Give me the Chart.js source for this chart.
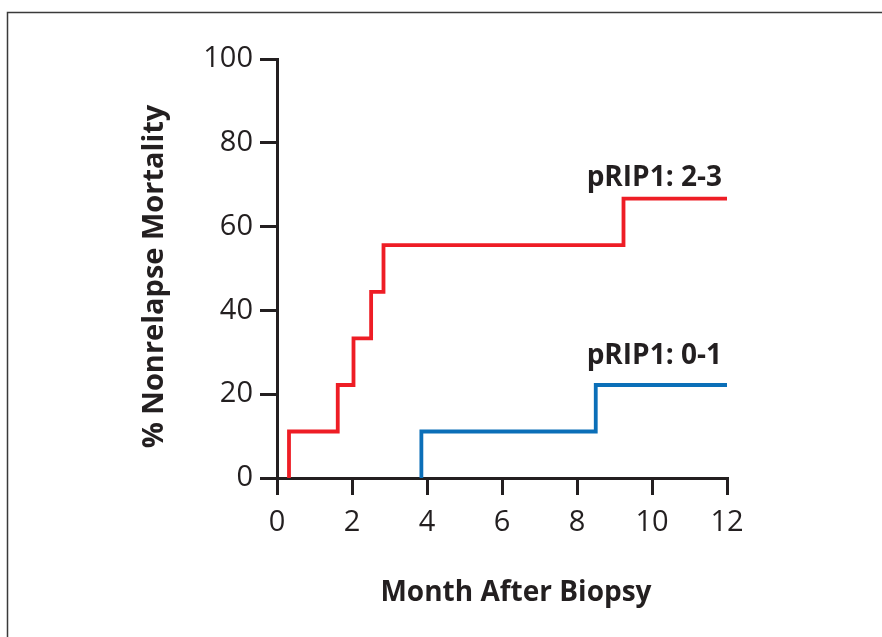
<!DOCTYPE html>
<html>
<head>
<meta charset="utf-8">
<script src="https://cdn.jsdelivr.net/npm/chart.js@4"></script>
<style>
  html, body { margin: 0; padding: 0; background: #fff; }
  canvas { display: block; }
</style>
</head>
<body>
<canvas id="nrm" width="882" height="637"></canvas>
<script>
// Cumulative nonrelapse mortality (%) after biopsy, by pRIP1 score group
const xTicks = [0, 2, 4, 6, 8, 10, 12];
const yTicks = [0, 20, 40, 60, 80, 100];
const followUpEnd = 12;

// pRIP1 2-3: event times (months) and cumulative incidence after each event
const highMonths = [0.32, 1.62, 2.04, 2.51, 2.84, 9.24];
const highPct = [11.1, 22.2, 33.3, 44.4, 55.6, 66.7];

// pRIP1 0-1
const lowMonths = [3.85, 8.5];
const lowPct = [11.1, 22.2];

const seriesNames = ['pRIP1: 2-3', 'pRIP1: 0-1'];
const seriesColors = ['#ee1d25', '#0b6fb8'];
const xTitle = 'Month After Biopsy';
const yTitle = '% Nonrelapse Mortality';

const INK = '#231f20';
const FAMILY = '"Open Sans", sans-serif';
const TICK_FONT = { family: FAMILY, size: 29, weight: '400' };

function fontString(size) {
  return `700 ${size}px ${FAMILY}`;
}

// Step curve: starts at 0 at the first event, rises at each event, runs flat to end of follow-up
function stepCurve(months, pct) {
  const pts = [{ x: months[0], y: 0 }];
  months.forEach((m, i) => pts.push({ x: m, y: pct[i] }));
  pts.push({ x: followUpEnd, y: pct[pct.length - 1] });
  return pts;
}

// Thin frame along the top and left of the figure
const framePlugin = {
  id: 'frame',
  beforeDraw(chart) {
    const { ctx, width, height } = chart;
    ctx.save();
    ctx.fillStyle = '#fff';
    ctx.fillRect(0, 0, width, height);
    ctx.strokeStyle = '#3a3a3a';
    ctx.lineWidth = 1.5;
    ctx.beginPath();
    ctx.moveTo(7.5, height);
    ctx.lineTo(7.5, 12.5);
    ctx.lineTo(width, 12.5);
    ctx.stroke();
    ctx.restore();
  }
};

// Axis titles and the group names above the right end of each curve
const annotationPlugin = {
  id: 'annotations',
  afterDatasetsDraw(chart) {
    const { ctx, chartArea: area, scales: { x, y } } = chart;
    ctx.save();
    ctx.fillStyle = INK;

    // x-axis title
    ctx.font = fontString(28);
    ctx.textAlign = 'center';
    ctx.textBaseline = 'middle';
    ctx.fillText(xTitle, (area.left + area.right) / 2 + 14, area.bottom + 115);

    // y-axis title, rotated
    ctx.save();
    ctx.translate(155, (area.top + area.bottom) / 2 + 8);
    ctx.rotate(-Math.PI / 2);
    ctx.font = fontString(29);
    ctx.fillText(yTitle, 0, 0);
    ctx.restore();

    // curve names
    const lifts = [13, 21];
    ctx.font = fontString(28);
    ctx.textAlign = 'right';
    ctx.textBaseline = 'alphabetic';
    chart.data.datasets.forEach((ds, i) => {
      const last = ds.data[ds.data.length - 1];
      ctx.fillText(ds.label, x.getPixelForValue(last.x) - 5, y.getPixelForValue(last.y) - lifts[i]);
    });
    ctx.restore();
  }
};

const axisCommon = {
  border: { display: true, color: INK, width: 3 },
  grid: {
    drawOnChartArea: false,
    drawTicks: true,
    tickLength: 17,
    tickWidth: 3,
    tickColor: INK,
    color: INK,
    lineWidth: 3
  }
};

function curveDataset(i, months, pct) {
  return {
    label: seriesNames[i],
    data: stepCurve(months, pct),
    showLine: true,
    stepped: 'before',
    borderColor: seriesColors[i],
    borderWidth: 3.8,
    borderJoinStyle: 'miter',
    borderCapStyle: 'butt',
    pointRadius: 0,
    fill: false
  };
}

new Chart(document.getElementById('nrm'), {
  type: 'scatter',
  data: {
    datasets: [
      curveDataset(0, highMonths, highPct),
      curveDataset(1, lowMonths, lowPct)
    ]
  },
  options: {
    responsive: false,
    devicePixelRatio: 1,
    animation: false,
    layout: { padding: { top: 59, right: 155, bottom: 0, left: 0 } },
    plugins: {
      legend: { display: false },
      tooltip: { enabled: false }
    },
    scales: {
      x: {
        ...axisCommon,
        type: 'linear',
        min: xTicks[0],
        max: xTicks[xTicks.length - 1],
        afterBuildTicks(scale) { scale.ticks = xTicks.map(v => ({ value: v })); },
        ticks: { color: INK, font: TICK_FONT, padding: 10, maxRotation: 0 },
        afterFit(scale) { scale.height = 159; }
      },
      y: {
        ...axisCommon,
        type: 'linear',
        min: yTicks[0],
        max: yTicks[yTicks.length - 1],
        afterBuildTicks(scale) { scale.ticks = yTicks.map(v => ({ value: v })); },
        ticks: { color: INK, font: TICK_FONT, padding: 7 },
        afterFit(scale) { scale.width = 277; }
      }
    }
  },
  plugins: [framePlugin, annotationPlugin]
});
</script>
</body>
</html>
